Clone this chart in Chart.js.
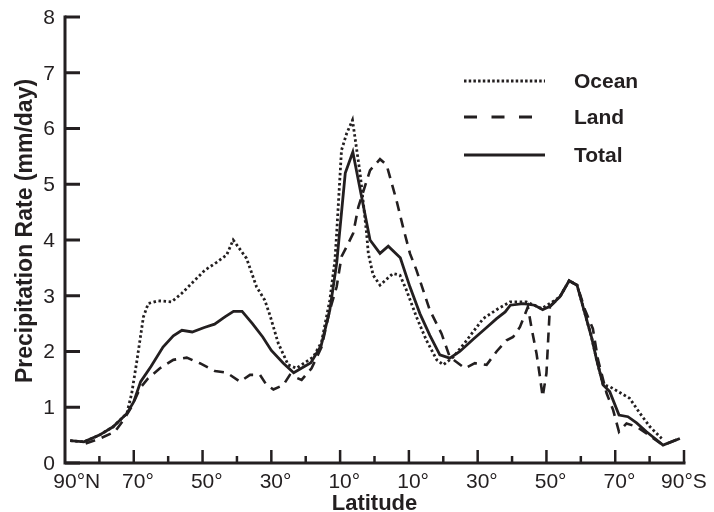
<!DOCTYPE html>
<html>
<head>
<meta charset="utf-8">
<script src="https://cdn.jsdelivr.net/npm/chart.js@4.4.0/dist/chart.umd.min.js"></script>
<style>
  html, body { margin: 0; padding: 0; background: #fff; }
  #wrap { width: 714px; height: 512px; }
</style>
</head>
<body>
<div id="wrap"><canvas id="precipChart" width="714" height="512"></canvas></div>
<script>
// Latitude: positive = north, negative = south
const oceanLat = [88.5, 84.5, 80, 76, 72, 70.6, 69.2, 67.2, 65.8, 62.9, 59, 56.1, 52.7, 49.3, 45.9, 43, 41.1, 37.2, 34.3, 31.9, 30.4, 28, 25.1, 22.7, 17.8, 15.4, 13, 11.5, 11, 9.6, 8.1, 6.4, 4.2, 2.3, 1.8, 0.4, -1.6, -5.4, -7.4, -9.3, -12.2, -15.1, -18.1, -20, -22.9, -26.8, -31.6, -35.5, -39.4, -44.2, -48.6, -51, -53.9, -56.6, -58.9, -61.2, -63.1, -64.6, -66.5, -68.4, -74.2, -77.2, -80.1, -83.5];
const oceanRate = [0.40, 0.38, 0.50, 0.65, 0.89, 1.25, 1.79, 2.62, 2.86, 2.91, 2.89, 3.04, 3.25, 3.46, 3.60, 3.73, 4.0, 3.67, 3.16, 2.92, 2.65, 2.15, 1.76, 1.70, 1.90, 2.17, 2.92, 3.64, 4.12, 5.61, 5.91, 6.15, 5.2, 4.12, 3.76, 3.37, 3.19, 3.40, 3.37, 3.10, 2.62, 2.20, 1.85, 1.76, 1.90, 2.20, 2.59, 2.75, 2.89, 2.89, 2.77, 2.86, 2.98, 3.27, 3.19, 2.68, 2.26, 1.85, 1.40, 1.37, 1.16, 0.89, 0.65, 0.44];

const landLat = [84, 79.8, 75.5, 73, 70.6, 68.2, 65.8, 62.4, 58.5, 54.6, 50.8, 46.4, 43, 39.1, 36.2, 33.3, 31.4, 29.4, 26.5, 24.6, 21.2, 18.3, 15.4, 13, 11, 9.6, 8.1, 6.2, 4.7, 1.3, -1.6, -3.5, -6.4, -8.3, -10.3, -12.2, -16.1, -19.5, -21.9, -26.3, -29.2, -32.6, -35.5, -38.4, -40.3, -42.3, -44.6, -45.7, -47.1, -48.1, -48.9, -50, -51, -53.9, -56.6, -58.9, -61.2, -63.5, -65, -67.5, -69.4, -71.1, -73.3, -76.2, -79.1, -83.9, -88.8];
const landRate = [0.35, 0.44, 0.56, 0.77, 1.01, 1.34, 1.52, 1.70, 1.85, 1.89, 1.79, 1.65, 1.62, 1.46, 1.58, 1.58, 1.40, 1.32, 1.40, 1.58, 1.49, 1.70, 2.08, 2.74, 3.16, 3.70, 3.88, 4.12, 4.59, 5.25, 5.45, 5.35, 4.71, 4.23, 3.76, 3.46, 2.74, 2.32, 1.90, 1.70, 1.79, 1.76, 2.0, 2.20, 2.26, 2.44, 2.80, 2.41, 1.97, 1.55, 1.19, 1.61, 2.8, 2.98, 3.27, 3.19, 2.75, 2.41, 1.85, 1.25, 0.95, 0.56, 0.71, 0.65, 0.53, 0.32, 0.44];

const totalLat = [88.5, 84.5, 80, 76, 72, 70, 68, 65, 61.5, 58.5, 56, 53, 49.5, 46.5, 43.5, 41, 38.5, 35.5, 32.5, 30, 26.5, 23.5, 18.5, 15.5, 13, 11, 8.5, 6.3, 1.3, -1.6, -4, -7.5, -10.3, -13.2, -16.1, -19, -21.9, -24.8, -28.7, -32.6, -35.5, -38, -39.5, -43.2, -46.6, -48.9, -51, -53.9, -56.6, -58.9, -61.2, -63.1, -64.6, -66.5, -68.4, -71.1, -73.7, -76.2, -79.1, -83.9, -88.8];
const totalRate = [0.40, 0.38, 0.50, 0.65, 0.89, 1.10, 1.46, 1.73, 2.08, 2.28, 2.38, 2.35, 2.43, 2.49, 2.62, 2.72, 2.72, 2.50, 2.26, 2.02, 1.79, 1.62, 1.80, 2.11, 2.74, 3.58, 5.2, 5.58, 4.0, 3.76, 3.89, 3.68, 3.16, 2.68, 2.29, 1.94, 1.88, 2.0, 2.22, 2.43, 2.59, 2.71, 2.83, 2.86, 2.83, 2.75, 2.81, 2.98, 3.27, 3.19, 2.68, 2.26, 1.85, 1.40, 1.28, 0.86, 0.83, 0.72, 0.56, 0.32, 0.44];

const xTickValues = [90, 70, 50, 30, 10, -10, -30, -50, -70, -90];
const xTickLabels = ['90°N', '70°', '50°', '30°', '10°', '10°', '30°', '50°', '70°', '90°S'];
const xMinorValues = [80, 60, 40, 20, 0, -20, -40, -60, -80];
const yTickValues = [0, 1, 2, 3, 4, 5, 6, 7, 8];

const INK = '#231f20';
const FONT = '"Liberation Sans", Arial, Helvetica, sans-serif';

function toPoints(lat, rate) {
    return lat.map((v, i) => ({ x: v, y: rate[i] }));
}

// axes, ticks, labels and legend drawn by hand (ticks point inwards)
const framePlugin = {
    id: 'frame',
    afterDatasetsDraw(chart) {
        const ctx = chart.ctx;
        const xs = chart.scales.x;
        const ys = chart.scales.y;
        const left = xs.getPixelForValue(90);
        const right = xs.getPixelForValue(-90);
        const bottom = ys.getPixelForValue(0);
        const top = ys.getPixelForValue(8);

        ctx.save();
        ctx.strokeStyle = INK;
        ctx.fillStyle = INK;
        ctx.lineWidth = 3;
        ctx.lineCap = 'butt';

        // axis lines
        ctx.beginPath();
        ctx.moveTo(left, top - 1.5);
        ctx.lineTo(left, bottom);
        ctx.lineTo(right + 1.5, bottom);
        ctx.stroke();

        // y ticks
        yTickValues.forEach(v => {
            const py = ys.getPixelForValue(v);
            ctx.beginPath();
            ctx.moveTo(left, py);
            ctx.lineTo(left + 15, py);
            ctx.stroke();
        });

        // x ticks
        ctx.lineWidth = 2.5;
        xTickValues.forEach(v => {
            if (v === 90) return;
            const px = xs.getPixelForValue(v);
            ctx.beginPath();
            ctx.moveTo(px, bottom);
            ctx.lineTo(px, bottom - 13);
            ctx.stroke();
        });
        xMinorValues.forEach(v => {
            const px = xs.getPixelForValue(v);
            ctx.beginPath();
            ctx.moveTo(px, bottom);
            ctx.lineTo(px, bottom - 7);
            ctx.stroke();
        });

        // tick labels
        ctx.font = '21px ' + FONT;
        ctx.textBaseline = 'middle';
        ctx.textAlign = 'right';
        yTickValues.forEach(v => {
            ctx.fillText(String(v), left - 10, ys.getPixelForValue(v) + 1);
        });

        ctx.textBaseline = 'alphabetic';
        ctx.textAlign = 'left';
        xTickLabels.forEach((label, i) => {
            const px = xs.getPixelForValue(xTickValues[i]);
            let w;
            if (label.endsWith('S')) {
                w = ctx.measureText(label).width;
            } else {
                w = ctx.measureText(label.match(/^\d+/)[0]).width;
            }
            ctx.fillText(label, px - w / 2, bottom + 25);
        });

        // axis titles
        ctx.font = 'bold 22px ' + FONT;
        ctx.textAlign = 'center';
        ctx.fillText('Latitude', (left + right) / 2, bottom + 47);

        ctx.save();
        ctx.translate(32, 231);
        ctx.rotate(-Math.PI / 2);
        ctx.font = 'bold 23px ' + FONT;
        ctx.fillText('Precipitation Rate (mm/day)', 0, 0);
        ctx.restore();

        // legend
        const legendRows = [
            { text: 'Ocean', y: 81, dash: [2.5, 2.2], width: 2.8 },
            { text: 'Land', y: 117, dash: [13, 14.5], width: 3 },
            { text: 'Total', y: 155, dash: [], width: 3 }
        ];
        legendRows.forEach(row => {
            ctx.lineWidth = row.width;
            ctx.setLineDash(row.dash);
            ctx.beginPath();
            ctx.moveTo(464, row.y);
            ctx.lineTo(545, row.y);
            ctx.stroke();
        });
        ctx.setLineDash([]);
        ctx.font = 'bold 21px ' + FONT;
        ctx.textAlign = 'left';
        ctx.textBaseline = 'middle';
        legendRows.forEach(row => {
            ctx.fillText(row.text, 574, row.y + 1);
        });

        ctx.restore();
    }
};

const ctx = document.getElementById('precipChart').getContext('2d');
new Chart(ctx, {
    type: 'line',
    data: {
        datasets: [
            {
                label: 'Land',
                data: toPoints(landLat, landRate),
                borderColor: INK,
                borderWidth: 2.6,
                borderDash: [10, 7],
                pointRadius: 0,
                tension: 0,
                fill: false
            },
            {
                label: 'Ocean',
                data: toPoints(oceanLat, oceanRate),
                borderColor: INK,
                borderWidth: 2.8,
                borderDash: [2.5, 2.6],
                pointRadius: 0,
                tension: 0,
                fill: false
            },
            {
                label: 'Total',
                data: toPoints(totalLat, totalRate),
                borderColor: INK,
                borderWidth: 2.8,
                pointRadius: 0,
                tension: 0,
                fill: false
            }
        ]
    },
    options: {
        responsive: false,
        animation: false,
        layout: { padding: { left: 65, right: 30, top: 17, bottom: 49 } },
        plugins: {
            legend: { display: false },
            tooltip: { enabled: false }
        },
        scales: {
            x: { type: 'linear', min: -90, max: 90, reverse: true, display: false },
            y: { type: 'linear', min: 0, max: 8, display: false }
        }
    },
    plugins: [framePlugin]
});
</script>
</body>
</html>
